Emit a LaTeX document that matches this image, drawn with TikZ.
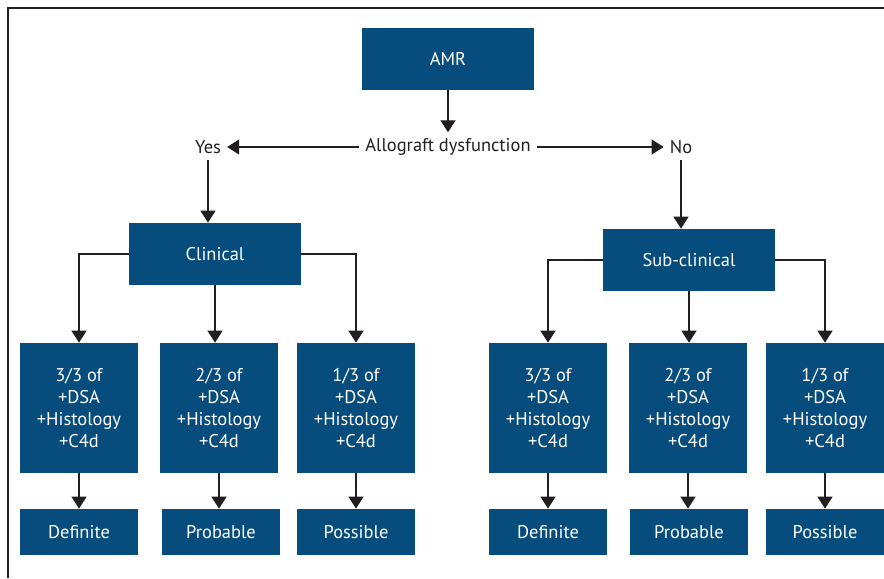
\documentclass[tikz,border=0pt]{standalone}
\usepackage{fontspec}
\setmainfont{PT Sans}
\usetikzlibrary{arrows.meta}
\definecolor{amrblue}{RGB}{6,76,124}
\definecolor{linegray}{RGB}{35,31,32}
\begin{document}
\begin{tikzpicture}[x=0.02cm, y=-0.02cm, font=\fontsize{10.5}{12.6}\selectfont,
    box/.style={fill=amrblue, text=white, inner sep=0pt, align=center},
    wide/.style={box, minimum width=3.44cm, minimum height=1.24cm},
    tall/.style={box, minimum width=2.36cm, minimum height=2.6cm},
    flat/.style={box, minimum width=2.36cm, minimum height=0.92cm},
    conn/.style={linegray, line width=0.7pt, -{Triangle[width=0.3cm, length=0.24cm]}}]
    \useasboundingbox (0,0) rectangle (884,578);
    % frame
    \draw[linegray, line width=0.6pt] (8,578) -- (8,8) -- (884,8);

    % top
    \node[wide] (amr) at (448,59) {AMR};
    \node[text=linegray] (allo) at (448,147) {Allograft dysfunction};
    \node[text=linegray] (yes) at (208,147) {Yes};
    \node[text=linegray] (no) at (681,147) {No};
    \node[wide] (clin) at (215,254) {Clinical};
    \node[wide] (sub) at (689,260) {Sub-clinical};

    \draw[conn] (amr.south) -- (allo.north);
    \draw[conn] (allo.west) -- (yes.east);
    \draw[conn] (allo.east) -- (no.west);
    \draw[conn] (yes.south) -- (yes.south |- clin.north);
    \draw[conn] (no.south) -- (no.south |- sub.north);

    % criteria and grades
    \foreach \i/\x/\xx/\f/\g in {1/79/79/3/Definite, 2/219/221/2/Probable, 3/356/356/1/Possible,
                                 4/548/548/3/Definite, 5/688/689/2/Probable, 6/825/825/1/Possible} {
      \node[tall] (m\i) at (\x,408) {\f/3 of\\+DSA\\+Histology\\+C4d};
      \node[flat] (r\i) at (\xx,532) {\g};
      \draw[conn] (m\i.south) -- (m\i.south |- r\i.north);
    }

    \draw[conn] (clin.west) -| (m1.north);
    \draw[conn] (clin.south) -- (clin.south |- m2.north);
    \draw[conn] (clin.east) -| (m3.north);
    \draw[conn] (sub.west) -| (m4.north);
    \draw[conn] (sub.south) -- (sub.south |- m5.north);
    \draw[conn] (sub.east) -| (m6.north);
\end{tikzpicture}
\end{document}
